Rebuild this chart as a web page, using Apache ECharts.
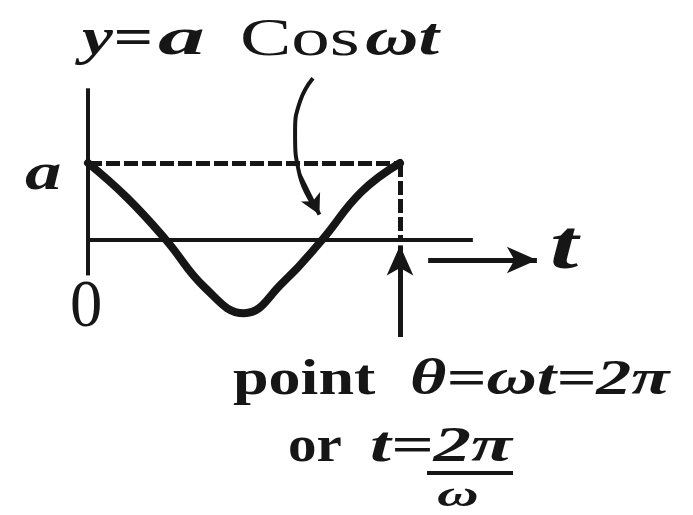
<!DOCTYPE html>
<html>
<head>
<meta charset="utf-8">
<script src="https://cdn.jsdelivr.net/npm/echarts@6/dist/echarts.min.js"></script>
<style>
  html, body { margin: 0; padding: 0; background: #fff; }
  #chart { width: 693px; height: 515px; }
</style>
</head>
<body>
<div id="chart"></div>
<script>
// One period of y = a cos(ωt): phase θ = ωt (radians) and y in units of a
const phase = [0, 0.785, 1.571, 2.356, 3.142, 3.927, 4.712, 5.498, 6.283];
const displacement = [1, 0.55, 0, -0.62, -0.95, -0.55, 0, 0.62, 1];

const period = 6.283;      // θ = 2π
const amplitude = 1;       // y = a

// Axis extents (data units)
const yAxisTop = 1.97;
const yAxisBottom = -0.46;
const tAxisEnd = 7.75;

// "→ t" arrow and the upward arrow marking θ = 2π
const tArrow = [[6.85, -0.26], [9.04, -0.26]];
const markerArrow = [[period, -1.26], [period, -0.07]];

// Curved pointer from the equation down to the curve
const pointerPath = [[4.53, 2.10], [4.27, 1.80], [4.17, 1.39], [4.26, 0.85], [4.60, 0.40]];

// Layout: pixel position of the origin and scale of each axis
const originX = 88, originY = 240;
const pxPerT = 312 / period;
const pxPerY = 77;
const W = 693, H = 515;

const ink = '#161616';
const serif = '"Liberation Serif", "DejaVu Serif", serif';

const chart = echarts.init(document.getElementById('chart'), null, { renderer: 'canvas' });

function seg(a, b, startSym, endSym) {
  return [
    { coord: a, symbol: startSym || 'none' },
    { coord: b, symbol: endSym || 'none' }
  ];
}

// A piece of wide-set type: left edge x, vertical middle y, horizontal stretch sx
function word(text, x, y, font, sx) {
  return {
    type: 'text', x: x, y: y, scaleX: sx || 1,
    style: { text: text, font: font, fill: ink, align: 'left', verticalAlign: 'middle' }
  };
}

const bi = (s) => 'italic bold ' + s + 'px ' + serif;
const b = (s) => 'bold ' + s + 'px ' + serif;
const r = (s) => s + 'px ' + serif;

chart.setOption({
  animation: false,
  backgroundColor: '#fff',
  grid: { left: 0, top: 0, width: W, height: H },
  xAxis: {
    type: 'value',
    min: -originX / pxPerT,
    max: (W - originX) / pxPerT,
    show: false
  },
  yAxis: {
    type: 'value',
    min: -(H - originY) / pxPerY,
    max: originY / pxPerY,
    show: false
  },
  series: [
    {
      name: 'axes',
      type: 'line',
      data: [],
      silent: true,
      markLine: {
        silent: true,
        symbol: 'none',
        label: { show: false },
        lineStyle: { color: ink, width: 4, type: 'solid' },
        data: [
          seg([0, yAxisTop], [0, yAxisBottom]),
          seg([0, 0], [tAxisEnd, 0])
        ]
      }
    },
    {
      name: 'amplitude guides',
      type: 'line',
      data: [],
      silent: true,
      markLine: {
        silent: true,
        symbol: 'none',
        label: { show: false },
        lineStyle: { color: ink, width: 5, type: [14, 4] },
        data: [
          seg([0, amplitude], [period, amplitude]),
          seg([period, amplitude], [period, 0])
        ]
      }
    },
    {
      name: 'arrows',
      type: 'line',
      data: [],
      silent: true,
      markLine: {
        silent: true,
        symbolSize: [20, 30],
        label: { show: false },
        lineStyle: { color: ink, width: 5, type: 'solid' },
        data: [
          seg(tArrow[0], tArrow[1], 'none', 'arrow'),
          seg(markerArrow[0], markerArrow[1], 'none', 'arrow')
        ]
      }
    },
    {
      name: 'y = a cos ωt',
      type: 'line',
      smooth: 0.45,
      clip: false,
      symbol: 'none',
      lineStyle: { color: ink, width: 8, cap: 'round' },
      data: phase.map((t, i) => [t, displacement[i]]),
      z: 5
    },
    {
      name: 'pointer',
      type: 'line',
      smooth: 0.5,
      clip: false,
      symbol: 'none',
      lineStyle: { color: ink, width: 4 },
      data: pointerPath,
      markLine: {
        silent: true,
        symbolSize: [16, 20],
        label: { show: false },
        lineStyle: { color: ink, width: 4, type: 'solid' },
        data: [seg(pointerPath[pointerPath.length - 2], [4.66, 0.33], 'none', 'arrow')]
      }
    }
  ],
  graphic: [
    // equation above the plot
    word('y=', 82, 41, bi(52), 1.34),
    word('a', 158, 41, bi(52), 1.8),
    word('Cos', 240, 41, r(52), 1.48),
    word('ωt', 365, 41, bi(52), 1.42),
    // axis marks
    word('a', 25, 176, bi(52), 1.4),
    word('0', 70, 308, r(68), 0.95),
    word('t', 550, 250, bi(70), 1.45),
    // note below the plot
    word('point', 233, 381, b(50), 1.28),
    word('θ=ωt=2π', 410, 381, bi(50), 1.4),
    word('or', 288, 448, b(50), 1.14),
    word('t=2π', 370, 448, bi(50), 1.5),
    {
      type: 'rect', shape: { x: 427, y: 471, width: 86, height: 4 },
      style: { fill: ink }
    },
    word('ω', 437, 497, bi(36), 1.6)
  ]
});
</script>
</body>
</html>
